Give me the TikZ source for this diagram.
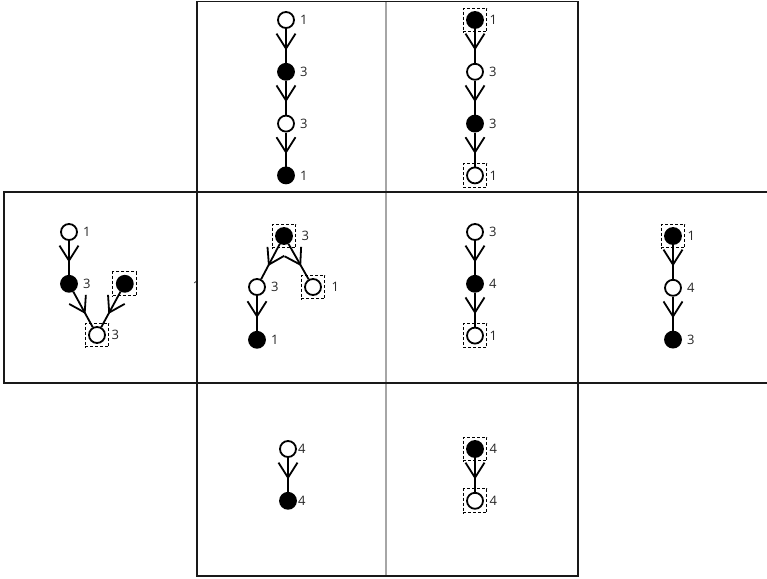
\documentclass[tikz,border=0pt]{standalone}
\usepackage{fontspec}
\setmainfont{Open Sans}
\usepackage{tikz}
\usetikzlibrary{arrows.meta, positioning, fit, decorations.markings}
\tikzset{
  vtx/.style={circle, draw, line width=1.8pt, minimum size=16pt, inner sep=0pt, fill=white},
  vfull/.style={vtx, fill=black},
  selbox/.style={draw, dash pattern=on 3pt off 2pt, line width=0.9pt, inner sep=3pt},
  num/.style={font=\fontsize{13}{15}\selectfont, inner sep=0pt, text=black!85},
  tag/.style={label={[num, label distance=5pt]right:#1}},
  btag/.style={label={[num, label distance=2pt]right:#1}},
  arrow/.style={line width=1.8pt, postaction={decorate},
                decoration={markings, mark=at position 0.63 with {\arrow{Straight Barb[length=15pt, width=19pt]}}}},
  panel/.style={line width=1.8pt, draw=black!90},
  divider/.style={line width=2pt, draw=black!35},
}

\begin{document}
\begin{tikzpicture}[x=1pt, y=-1pt, node distance=34pt]
  \useasboundingbox (0,0) rectangle (767,578);

  % stray label under the frame
  \node[num] (stray) at (196.5,286) {1};

  % frames
  \draw[divider] (386,1.5) -- (386,576);
  \draw[panel] (197,1.5) rectangle (578,192);
  \draw[panel] (4,192) rectangle (197,383);
  \draw[panel] (197,192) rectangle (578,383);
  \draw[panel] (578,192) -- (768,192) (578,383) -- (768,383);
  \draw[panel] (197,383) rectangle (578,576);

  % top row
  \node[vtx, tag=1] (p1) at (286,20) {};
  \node[vfull, tag=3, below=of p1] (p2) {};
  \node[vtx, tag=3, below=of p2] (p3) {};
  \node[vfull, tag=1, below=of p3] (p4) {};

  \node[vfull] (q1) at (475,20) {};
  \node[vtx, tag=3, below=of q1] (q2) {};
  \node[vfull, tag=3, below=of q2] (q3) {};
  \node[vtx, below=of q3] (q4) {};
  \node[selbox, fit=(q1), btag=1] (q1box) {};
  \node[selbox, fit=(q4), btag=1] (q4box) {};

  % middle row
  \node[vtx, tag=1] (a1) at (69,232) {};
  \node[vfull, tag=3, below=of a1] (a2) {};
  \node[vfull, right=38pt of a2] (a3) {};
  \node[vtx] (a4) at (97,335) {};
  \node[selbox, fit=(a3)] (a3box) {};
  \node[selbox, fit=(a4), btag=3] (a4box) {};

  \node[vfull] (b1) at (284,236) {};
  \node[vtx, tag=3] (b2) at (257,287) {};
  \node[vtx] (b3) at (313,287) {};
  \node[vfull, tag=1, below=35pt of b2] (b4) {};
  \node[selbox, fit=(b1), label={[num, label distance=5pt]right:3}] (b1box) {};
  \node[selbox, fit=(b3), label={[num, label distance=6pt]right:1}] (b3box) {};

  \node[vtx, tag=3] (c1) at (475,232) {};
  \node[vfull, tag=4, below=of c1] (c2) {};
  \node[vtx, below=of c2] (c3) {};
  \node[selbox, fit=(c3), btag=1] (c3box) {};

  \node[vfull] (d1) at (673,236) {};
  \node[vtx, tag=4, below=of d1] (d2) {};
  \node[vfull, tag=3, below=of d2] (d3) {};
  \node[selbox, fit=(d1), btag=1] (d1box) {};

  % bottom row
  \node[vtx, label={[num, label distance=1pt]right:4}] (e1) at (288,449) {};
  \node[vfull, label={[num, label distance=1pt]right:4}, below=of e1] (e2) {};

  \node[vfull] (f1) at (475,449) {};
  \node[vtx, below=of f1] (f2) {};
  \node[selbox, fit=(f1), btag=4] (f1box) {};
  \node[selbox, fit=(f2), btag=4] (f2box) {};

  \draw[arrow] (p1) -- (p2);
  \draw[arrow] (p2) -- (p3);
  \draw[arrow] (p3) -- (p4);
  \draw[arrow] (q1) -- (q2);
  \draw[arrow] (q2) -- (q3);
  \draw[arrow] (q3) -- (q4);
  \draw[arrow] (a1) -- (a2);
  \draw[arrow] (a2) -- (a4);
  \draw[arrow] (a3) -- (a4);
  \draw[arrow] (b1) -- (b2);
  \draw[arrow] (b1) -- (b3);
  \draw[arrow] (b2) -- (b4);
  \draw[arrow] (c1) -- (c2);
  \draw[arrow] (c2) -- (c3);
  \draw[arrow] (d1) -- (d2);
  \draw[arrow] (d2) -- (d3);
  \draw[arrow] (e1) -- (e2);
  \draw[arrow] (f1) -- (f2);
\end{tikzpicture}
\end{document}
